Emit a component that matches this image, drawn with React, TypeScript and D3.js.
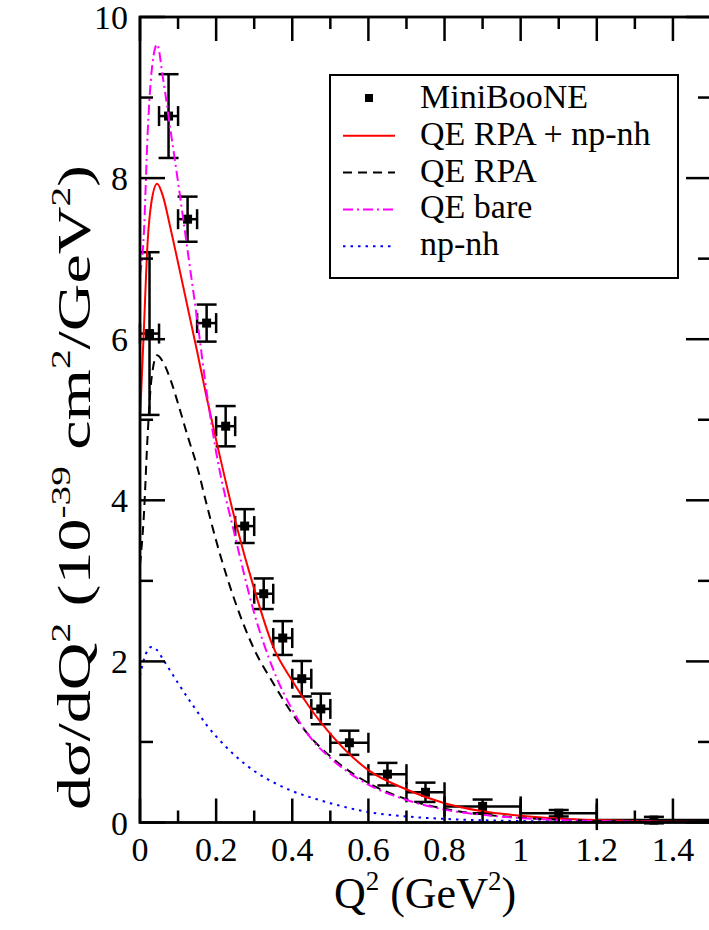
import React, { useEffect, useRef } from 'react';
import * as d3 from 'd3';

// MiniBooNE data (bin centres, half-widths, values, errors)
const mbQ2 = [0.025, 0.075, 0.125, 0.175, 0.225, 0.275, 0.325, 0.375, 0.425, 0.475, 0.55, 0.65, 0.75, 0.9, 1.1, 1.35];
const mbQ2Err = [0.025, 0.025, 0.025, 0.025, 0.025, 0.025, 0.025, 0.025, 0.025, 0.025, 0.05, 0.05, 0.05, 0.1, 0.1, 0.15];
const mbXsec = [6.07, 8.77, 7.49, 6.2, 4.92, 3.68, 2.84, 2.29, 1.785, 1.41, 0.99, 0.6, 0.375, 0.2, 0.115, 0.03];
const mbXsecErr = [1.01, 0.52, 0.28, 0.23, 0.25, 0.21, 0.19, 0.21, 0.22, 0.19, 0.15, 0.14, 0.12, 0.085, 0.04, 0.04];

// theory curves, sampled on a common Q2 grid
const curveQ2 = [0, 0.01, 0.02, 0.03, 0.045, 0.06, 0.08, 0.1, 0.125, 0.15, 0.175, 0.2, 0.25, 0.3, 0.35, 0.4, 0.45, 0.5, 0.6, 0.7, 0.8, 0.9, 1.0, 1.1, 1.2, 1.3, 1.4, 1.5];
const rpaNpnh = [5.0, 6.1, 7.2, 7.7, 7.93, 7.78, 7.38, 6.95, 6.4, 5.85, 5.28, 4.75, 3.75, 2.9, 2.18, 1.76, 1.4, 1.1, 0.65, 0.41, 0.24, 0.14, 0.085, 0.05, 0.03, 0.018, 0.01, 0.006];
const rpa = [3.2, 3.8, 4.8, 5.5, 5.8, 5.72, 5.5, 5.2, 4.8, 4.42, 3.95, 3.5, 2.74, 2.15, 1.73, 1.35, 1.05, 0.82, 0.49, 0.29, 0.17, 0.1, 0.06, 0.035, 0.02, 0.012, 0.007, 0.004];
const bare = [6.8, 7.3, 8.55, 9.3, 9.66, 9.25, 8.6, 7.95, 7.1, 6.25, 5.35, 4.6, 3.55, 2.6, 1.9, 1.4, 1.04, 0.8, 0.47, 0.28, 0.16, 0.095, 0.055, 0.032, 0.018, 0.01, 0.006, 0.003];
const npnh = [1.82, 2.02, 2.14, 2.18, 2.14, 2.03, 1.88, 1.73, 1.55, 1.38, 1.21, 1.07, 0.83, 0.64, 0.5, 0.39, 0.31, 0.24, 0.13, 0.075, 0.045, 0.028, 0.018, 0.011, 0.007, 0.004, 0.003, 0.002];

const xTicks = [0, 0.2, 0.4, 0.6, 0.8, 1, 1.2, 1.4];
const yTicks = [0, 2, 4, 6, 8, 10];

const legendLabels = ['MiniBooNE', 'QE RPA + np-nh', 'QE RPA', 'QE bare', 'np-nh'];

const W = 709;
const H = 930;

export default function App() {
  const svgRef = useRef(null);

  useEffect(() => {
    const svg = d3.select(svgRef.current);
    svg.selectAll('*').remove();
    const font = '"Liberation Serif", "Times New Roman", serif';

    const left = 140, right = 711, top = 17, bottom = 822.5;
    const x = d3.scaleLinear().domain([0, 1.5]).range([left, right]);
    const y = d3.scaleLinear().domain([0, 10]).range([bottom, top]);

    svg.append('defs').append('clipPath').attr('id', 'plot')
      .append('rect').attr('x', left).attr('y', top).attr('width', right - left).attr('height', bottom - top);

    // data points with error bars
    const pts = svg.append('g').attr('stroke', '#000').attr('stroke-width', 2.5);
    const cap = 10;
    mbQ2.forEach((q, i) => {
      const cx = x(q), cy = y(mbXsec[i]);
      const y1 = y(mbXsec[i] + mbXsecErr[i]), y0 = y(mbXsec[i] - mbXsecErr[i]);
      const x0 = x(q - mbQ2Err[i]), x1 = x(q + mbQ2Err[i]);
      pts.append('line').attr('x1', cx).attr('x2', cx).attr('y1', y1).attr('y2', y0);
      pts.append('line').attr('x1', cx - cap).attr('x2', cx + cap).attr('y1', y1).attr('y2', y1);
      pts.append('line').attr('x1', cx - cap).attr('x2', cx + cap).attr('y1', y0).attr('y2', y0);
      pts.append('line').attr('x1', x0).attr('x2', x1).attr('y1', cy).attr('y2', cy);
      pts.append('line').attr('x1', x0).attr('x2', x0).attr('y1', cy - cap).attr('y2', cy + cap);
      pts.append('line').attr('x1', x1).attr('x2', x1).attr('y1', cy - cap).attr('y2', cy + cap);
      pts.append('rect').attr('x', cx - 4.5).attr('y', cy - 4.5).attr('width', 9).attr('height', 9)
        .attr('fill', '#000').attr('stroke', 'none');
    });

    // curves
    const series = [
      { vals: rpaNpnh, color: '#ff0000', dash: null },
      { vals: rpa, color: '#000000', dash: '9,6' },
      { vals: bare, color: '#ff00ff', dash: '10,4,2,4' },
      { vals: npnh, color: '#0000ff', dash: '2.5,5' },
    ];
    const line = d3.line<number>()
      .x((_, i) => x(curveQ2[i]))
      .y((d) => y(d))
      .curve(d3.curveMonotoneX);
    const curves = svg.append('g').attr('clip-path', 'url(#plot)');
    series.forEach((s) => {
      curves.append('path')
        .attr('d', line(s.vals))
        .attr('fill', 'none')
        .attr('stroke', s.color)
        .attr('stroke-width', 2)
        .attr('stroke-dasharray', s.dash);
    });

    // frame
    svg.append('rect').attr('x', left).attr('y', top).attr('width', right - left).attr('height', bottom - top)
      .attr('fill', 'none').attr('stroke', '#000').attr('stroke-width', 2.8);

    const ticks = svg.append('g').attr('stroke', '#000').attr('stroke-width', 2.5);
    d3.range(0, 1.51, 0.1).forEach((v, i) => {
      const len = i % 2 === 0 ? 24 : 12;
      ticks.append('line').attr('x1', x(v)).attr('x2', x(v)).attr('y1', bottom).attr('y2', bottom - len);
      ticks.append('line').attr('x1', x(v)).attr('x2', x(v)).attr('y1', top).attr('y2', top + len);
    });
    d3.range(0, 10.01, 1).forEach((v, i) => {
      const len = i % 2 === 0 ? 25 : 13;
      ticks.append('line').attr('x1', left).attr('x2', left + len).attr('y1', y(v)).attr('y2', y(v));
      ticks.append('line').attr('x1', right).attr('x2', right - len).attr('y1', y(v)).attr('y2', y(v));
    });

    // tick labels
    svg.append('g').selectAll('text').data(xTicks).join('text')
      .attr('x', (d) => x(d)).attr('y', bottom + 38)
      .attr('text-anchor', 'middle').attr('font-family', font).attr('font-size', 34)
      .text((d) => String(d));
    svg.append('g').selectAll('text').data(yTicks).join('text')
      .attr('x', left - 12).attr('y', (d) => y(d) + 12)
      .attr('text-anchor', 'end').attr('font-family', font).attr('font-size', 34)
      .text((d) => String(d));

    // axis titles
    const xt = svg.append('text').attr('x', 425).attr('y', 908).attr('text-anchor', 'middle')
      .attr('font-family', font).attr('font-size', 44);
    xt.append('tspan').text('Q');
    xt.append('tspan').attr('dy', -18).attr('font-size', 27).text('2');
    xt.append('tspan').attr('dy', 18).text(' (GeV');
    xt.append('tspan').attr('dy', -18).attr('font-size', 27).text('2');
    xt.append('tspan').attr('dy', 18).text(')');

    const yt = svg.append('text').attr('transform', 'translate(90,810) rotate(-90)')
      .attr('font-family', font).attr('font-size', 47)
      .attr('textLength', 645).attr('lengthAdjust', 'spacingAndGlyphs');
    yt.append('tspan').text('dσ/dQ');
    yt.append('tspan').attr('dy', -20).attr('font-size', 28).text('2');
    yt.append('tspan').attr('dy', 20).text('\u00a0(10');
    yt.append('tspan').attr('dy', -20).attr('font-size', 28).text('-39');
    yt.append('tspan').attr('dy', 20).text('\u00a0cm');
    yt.append('tspan').attr('dy', -20).attr('font-size', 28).text('2');
    yt.append('tspan').attr('dy', 20).text('/GeV');
    yt.append('tspan').attr('dy', -20).attr('font-size', 28).text('2');
    yt.append('tspan').attr('dy', 20).text(')');

    // legend
    const lg = svg.append('g');
    lg.append('rect').attr('x', 330).attr('y', 75).attr('width', 348).attr('height', 203)
      .attr('fill', '#fff').attr('stroke', '#000').attr('stroke-width', 2);
    legendLabels.forEach((label, i) => {
      const base = 108 + i * 36.8;
      lg.append('text').attr('x', 420).attr('y', base).attr('font-family', font).attr('font-size', 34).text(label);
      if (i === 0) {
        lg.append('rect').attr('x', 365).attr('y', base - 14).attr('width', 8).attr('height', 8).attr('fill', '#000');
      } else {
        const s = series[i - 1];
        lg.append('line').attr('x1', 343).attr('x2', 395).attr('y1', base - 9).attr('y2', base - 9)
          .attr('stroke', s.color).attr('stroke-width', 2).attr('stroke-dasharray', s.dash);
      }
    });
  }, []);

  return (
    <svg ref={svgRef} width={W} height={H}
      style={{ position: 'absolute', left: 0, top: 0, background: '#fff' }} />
  );
}
